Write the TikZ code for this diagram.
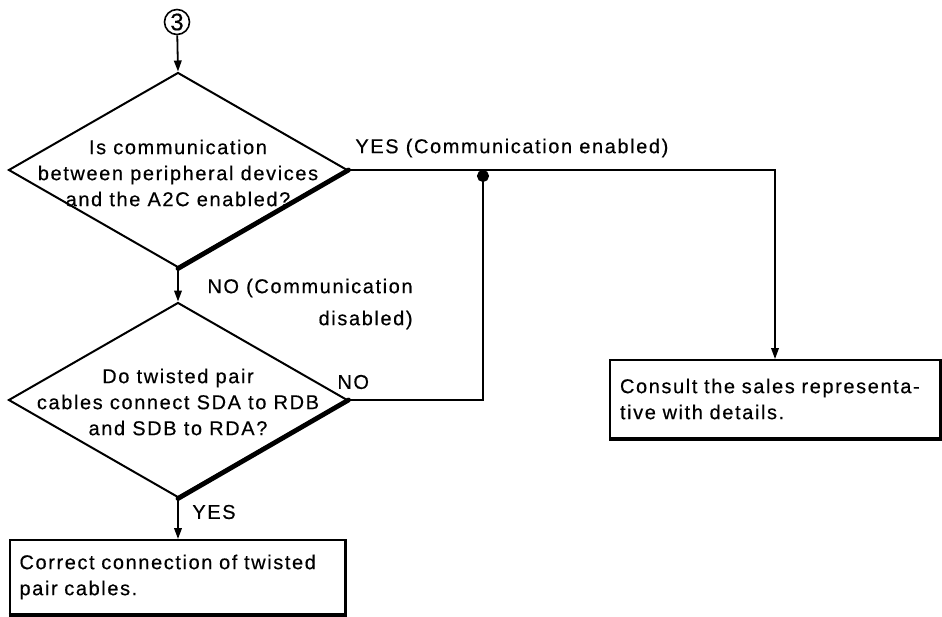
\documentclass[tikz,border=0pt]{standalone}
\usepackage{fontspec}
\newfontfamily\chartfont{Liberation Sans}[LetterSpace=8, FakeBold=0.4]
\usetikzlibrary{shapes.geometric,arrows.meta}

\begin{document}
\begin{tikzpicture}[x=0.5pt, y=-0.5pt,
    every node/.style={font=\chartfont\fontsize{10}{13}\selectfont},
    decision/.style={draw, diamond, line width=1pt, minimum width=169.5pt, minimum height=97.5pt, inner sep=0pt},
    qtext/.style={align=center, inner sep=0pt},
    action/.style={draw, rectangle, line width=1pt, inner xsep=5pt, inner ysep=0pt, align=left},
    lbl/.style={inner sep=0pt},
    flow/.style={line width=0.9pt, -{Triangle[length=5.5pt,width=3.8pt]}},
    heavy/.style={line width=2.4pt, line cap=round}]
    \useasboundingbox (0,0) rectangle (942,616);

    \node[draw, circle, line width=0.8pt, minimum size=12.5pt, inner sep=0pt,
          font=\chartfont\fontsize{12}{12}\selectfont] (start) at (177,22) {3};

    \node[decision] (q1) at (178,170) {};
    \node[qtext] (q1text) at (178,173) {Is communication\\between peripheral devices\\and the A2C enabled?};
    \node[decision] (q2) at (178,400) {};
    \node[qtext] (q2text) at (178,402) {Do twisted pair\\cables connect SDA to RDB\\and SDB to RDA?};

    \node[action, text width=157.5pt, minimum height=37pt] (fix) at (177,577)
        {Correct connection of twisted\\pair cables.};
    \node[action, text width=155pt, minimum height=39pt] (ask) at (775,399)
        {Consult the sales representa-\\tive with details.};

    \draw[heavy] (q1.east) -- (q1.south);
    \draw[heavy] (q2.east) -- (q2.south);
    \draw[line width=1.6pt] (fix.south west) -- (fix.south east) -- (fix.north east);
    \draw[line width=1.6pt] (ask.south west) -- (ask.south east) -- (ask.north east);

    \coordinate (merge) at (483,170);

    \draw[flow] (start) -- (q1.north);
    \draw[flow] (q1.south) -- (q2.north);
    \draw[flow] (q2.south) -- (q2.south |- fix.north);
    \draw[flow] (q1.east) -| (ask.north);
    \draw[line width=0.9pt, -{Circle[length=6pt]}] (q2.east) -| (merge);

    \node[lbl, anchor=west] (yes1) at (355,148) {YES (Communication enabled)};
    \node[lbl, anchor=east, align=right] (no1) at (413,304) {NO (Communication\\[3pt]disabled)};
    \node[lbl, anchor=west] (no2) at (337,382) {NO};
    \node[lbl, anchor=west] (yes2) at (192,512) {YES};
\end{tikzpicture}
\end{document}
